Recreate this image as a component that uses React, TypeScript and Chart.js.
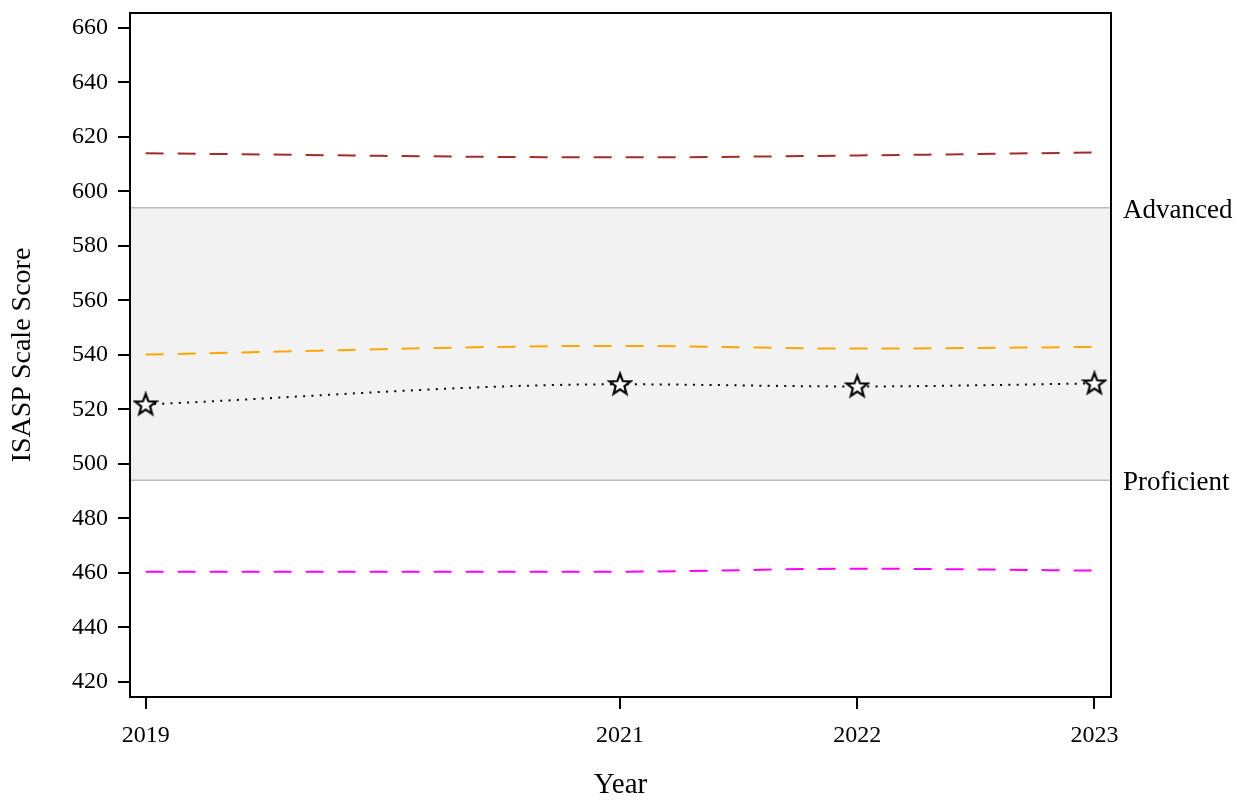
import React, { useEffect, useRef } from "react";
import { Chart, registerables } from "chart.js";

Chart.register(...registerables);

const years = [2019, 2021, 2022, 2023];
const upperValues = [614.0, 612.5, 613.2, 614.3];
const midValues = [540.1, 543.3, 542.3, 542.9];
const scoreValues = [521.8, 529.2, 528.4, 529.5];
const lowerValues = [460.4, 460.4, 461.5, 460.8];
const yTicks = [420, 440, 460, 480, 500, 520, 540, 560, 580, 600, 620, 640, 660];
const cutScores = [
  { label: "Advanced", value: 594 },
  { label: "Proficient", value: 494 },
];

const FONT = "'Liberation Serif', 'Times New Roman', serif";

function makeStar(): HTMLCanvasElement {
  const c = document.createElement("canvas");
  c.width = 26;
  c.height = 26;
  const ctx = c.getContext("2d")!;
  const cx = 13, cy = 13.5, ro = 11, ri = 4.6;
  ctx.beginPath();
  for (let i = 0; i < 10; i++) {
    const r = i % 2 === 0 ? ro : ri;
    const a = -Math.PI / 2 + (i * Math.PI) / 5;
    const x = cx + r * Math.cos(a);
    const y = cy + r * Math.sin(a);
    if (i === 0) ctx.moveTo(x, y);
    else ctx.lineTo(x, y);
  }
  ctx.closePath();
  ctx.fillStyle = "#ffffff";
  ctx.fill();
  ctx.lineWidth = 2.2;
  ctx.strokeStyle = "#000000";
  ctx.lineJoin = "miter";
  ctx.stroke();
  return c;
}

const bandPlugin = {
  id: "bandPlugin",
  beforeDatasetsDraw(chart: any) {
    const { ctx, chartArea, scales } = chart;
    const y = scales.y;
    const yTop = y.getPixelForValue(cutScores[0].value);
    const yBot = y.getPixelForValue(cutScores[1].value);
    ctx.save();
    ctx.fillStyle = "#f2f2f2";
    ctx.fillRect(chartArea.left, yTop, chartArea.right - chartArea.left, yBot - yTop);
    ctx.strokeStyle = "#bdbdbd";
    ctx.lineWidth = 1.5;
    for (const c of cutScores) {
      const py = y.getPixelForValue(c.value);
      ctx.beginPath();
      ctx.moveTo(chartArea.left, py);
      ctx.lineTo(chartArea.right, py);
      ctx.stroke();
    }
    ctx.restore();
  },
  afterDraw(chart: any) {
    const { ctx, chartArea, scales } = chart;
    const y = scales.y;
    ctx.save();
    ctx.strokeStyle = "#000000";
    ctx.lineWidth = 2;
    ctx.strokeRect(chartArea.left, chartArea.top, chartArea.right - chartArea.left, chartArea.bottom - chartArea.top);
    ctx.fillStyle = "#000000";
    ctx.font = `27px ${FONT}`;
    ctx.textAlign = "left";
    ctx.textBaseline = "middle";
    for (const c of cutScores) {
      const py = y.getPixelForValue(c.value);
      ctx.fillText(c.label, chartArea.right + 12, py + 3);
    }
    ctx.restore();
  },
};

export default function App() {
  const ref = useRef<HTMLCanvasElement | null>(null);
  useEffect(() => {
    document.body.style.margin = "0";
    const star = makeStar();
    const toXY = (vals: number[]) => years.map((x, i) => ({ x, y: vals[i] }));
    const chart = new Chart(ref.current!, {
      type: "line",
      data: {
        datasets: [
          {
            data: toXY(upperValues),
            borderColor: "#a52a2a",
            borderWidth: 2,
            borderDash: [18, 14],
            pointRadius: 0,
            cubicInterpolationMode: "monotone",
          },
          {
            data: toXY(midValues),
            borderColor: "#ffa500",
            borderWidth: 2,
            borderDash: [18, 14],
            pointRadius: 0,
            cubicInterpolationMode: "monotone",
          },
          {
            data: toXY(scoreValues),
            borderColor: "#000000",
            borderWidth: 2,
            borderDash: [2, 6.3],
            pointStyle: star as any,
            pointRadius: 11,
            cubicInterpolationMode: "monotone",
          },
          {
            data: toXY(lowerValues),
            borderColor: "#ff00ff",
            borderWidth: 2,
            borderDash: [18, 14],
            pointRadius: 0,
            cubicInterpolationMode: "monotone",
          },
        ],
      },
      options: {
        animation: false,
        responsive: false,
        layout: { padding: { top: 10, right: 133, bottom: 0, left: 0 } },
        plugins: { legend: { display: false }, tooltip: { enabled: false } },
        scales: {
          x: {
            type: "linear",
            min: 2018.934,
            max: 2023.07,
            afterBuildTicks: (s: any) => {
              s.ticks = years.map((v) => ({ value: v }));
            },
            afterFit: (s: any) => {
              s.height = 103;
              s.paddingLeft = 0;
              s.paddingRight = 0;
            },
            ticks: {
              color: "#000",
              font: { family: FONT, size: 24 },
              padding: 12,
              maxRotation: 0,
              autoSkip: false,
              callback: (v: any) => String(v),
            },
            grid: { drawOnChartArea: false, drawTicks: true, tickLength: 12, color: "#000", lineWidth: 2 },
            border: { display: false },
            title: {
              display: true,
              text: "Year",
              color: "#000",
              font: { family: FONT, size: 29, lineHeight: 1.0 },
              padding: { top: 0, bottom: 0 },
            },
          },
          y: {
            type: "linear",
            min: 414.4,
            max: 665.5,
            afterBuildTicks: (s: any) => {
              s.ticks = yTicks.map((v) => ({ value: v }));
            },
            afterFit: (s: any) => {
              s.width = 130;
              s.paddingTop = 0;
              s.paddingBottom = 0;
            },
            ticks: {
              color: "#000",
              font: { family: FONT, size: 24 },
              padding: 10,
              autoSkip: false,
              callback: (v: any) => String(v),
            },
            grid: { drawOnChartArea: false, drawTicks: true, tickLength: 12, color: "#000", lineWidth: 2 },
            border: { display: false },
            title: {
              display: true,
              text: "ISASP Scale Score",
              color: "#000",
              font: { family: FONT, size: 28, lineHeight: 1.0 },
              padding: { top: 9, bottom: 0 },
            },
          },
        },
      },
      plugins: [bandPlugin],
    });
    return () => chart.destroy();
  }, []);
  return <canvas ref={ref} width={1244} height={800} style={{ display: "block" }} />;
}
